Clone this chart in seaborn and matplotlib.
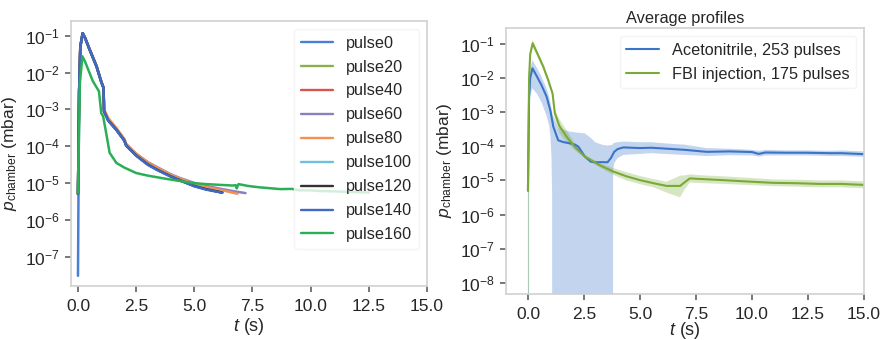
import numpy as np
import pandas as pd
import matplotlib
matplotlib.use("Agg")
import matplotlib.pyplot as plt
import matplotlib.ticker as mticker
import seaborn as sns

# ---------------- data ----------------
t_main = [0, 0.05, 0.1, 0.2, 0.3, 0.5, 0.8, 1.0, 1.1, 1.12, 1.3, 1.65, 2.0, 2.05,
          2.1, 2.5, 3.0, 3.4, 4.0, 4.4, 5.0, 5.5, 6.2]
p_pulse0 = [3e-8, 3.2e-3, 0.05, 0.117, 0.089, 0.042, 0.0145, 5.6e-3, 3.8e-3, 8.9e-4,
            5.0e-4, 2.8e-4, 1.4e-4, 1.12e-4, 1.0e-4, 5.6e-5, 3.2e-5, 2.3e-5, 1.5e-5,
            1.17e-5, 8.3e-6, 6.8e-6, 5.5e-6]
p_pulse20 = [5e-6, 3.2e-3, 0.05, 0.115, 0.088, 0.042, 0.0145, 5.6e-3, 3.8e-3, 9.0e-4,
             5.1e-4, 2.8e-4, 1.42e-4, 1.13e-4, 1.0e-4, 5.7e-5, 3.3e-5, 2.35e-5, 1.52e-5,
             1.2e-5, 8.5e-6, 6.9e-6, 5.6e-6]
p_pulse40 = [5e-6, 3.2e-3, 0.05, 0.116, 0.088, 0.042, 0.0145, 5.6e-3, 3.8e-3, 9.0e-4,
             5.1e-4, 2.85e-4, 1.42e-4, 1.13e-4, 1.0e-4, 5.7e-5, 3.3e-5, 2.35e-5, 1.55e-5,
             1.22e-5, 8.6e-6, 7.0e-6, 5.6e-6]
t_p60 = [0, 0.05, 0.1, 0.2, 0.3, 0.5, 0.8, 1.0, 1.1, 1.12, 1.3, 1.65, 2.0, 2.05,
         2.1, 2.5, 3.0, 3.4, 4.0, 4.4, 5.0, 5.5, 6.2, 6.8, 7.2]
p_pulse60 = [5e-6, 3.2e-3, 0.05, 0.116, 0.089, 0.043, 0.015, 5.7e-3, 3.9e-3, 9.5e-4,
             5.5e-4, 3.0e-4, 1.5e-4, 1.2e-4, 1.08e-4, 6.2e-5, 3.7e-5, 2.7e-5, 1.7e-5,
             1.35e-5, 1.0e-5, 8.3e-6, 6.8e-6, 5.8e-6, 5.3e-6]
t_p80 = [0, 0.05, 0.1, 0.2, 0.3, 0.5, 0.8, 1.0, 1.1, 1.12, 1.3, 1.65, 2.0, 2.05,
         2.1, 2.5, 3.0, 3.4, 4.0, 4.4, 5.0, 5.5, 6.2, 6.85]
p_pulse80 = [5e-6, 3.2e-3, 0.05, 0.116, 0.089, 0.043, 0.015, 5.7e-3, 3.9e-3, 1.0e-3,
             5.8e-4, 3.1e-4, 1.55e-4, 1.22e-4, 1.1e-4, 6.3e-5, 3.6e-5, 2.6e-5, 1.65e-5,
             1.3e-5, 9.5e-6, 7.8e-6, 6.3e-6, 5.1e-6]
p_pulse100 = [5e-6, 3.2e-3, 0.05, 0.116, 0.088, 0.042, 0.0145, 5.6e-3, 3.8e-3, 9.0e-4,
              5.0e-4, 2.8e-4, 1.4e-4, 1.12e-4, 1.0e-4, 5.6e-5, 3.2e-5, 2.3e-5, 1.5e-5,
              1.18e-5, 8.4e-6, 6.8e-6, 5.5e-6]
p_pulse120 = [5e-6, 3.2e-3, 0.05, 0.117, 0.089, 0.042, 0.0145, 5.6e-3, 3.8e-3, 8.9e-4,
              5.0e-4, 2.8e-4, 1.4e-4, 1.12e-4, 1.0e-4, 5.6e-5, 3.2e-5, 2.3e-5, 1.5e-5,
              1.17e-5, 8.3e-6, 6.8e-6, 5.5e-6]
p_pulse140 = [5e-6, 3.2e-3, 0.05, 0.117, 0.089, 0.042, 0.0145, 5.6e-3, 3.8e-3, 8.8e-4,
              4.9e-4, 2.75e-4, 1.38e-4, 1.1e-4, 0.98e-4, 5.5e-5, 3.1e-5, 2.25e-5, 1.47e-5,
              1.15e-5, 8.1e-6, 6.6e-6, 5.4e-6]
t_p160 = [0, 0.08, 0.19, 0.3, 0.64, 0.9, 0.95, 1.0, 1.08, 1.2, 1.36, 1.65, 2.0, 2.5,
          3.0, 3.8, 4.9, 5.5, 6.65, 6.78, 6.82, 6.9, 7.3, 7.8, 8.7, 9.2, 9.5, 9.9,
          10.5, 11.0, 11.5, 12.0, 12.5]
p_pulse160 = [5.4e-6, 5.0e-3, 0.0275, 0.02, 5.8e-3, 3.1e-3, 1.6e-3, 7.9e-4, 6.5e-4,
              2.5e-4, 6.6e-5, 3.5e-5, 2.6e-5, 1.86e-5, 1.58e-5, 1.29e-5, 1.0e-5, 9.3e-6,
              8.5e-6, 8.7e-6, 7.1e-6, 9.3e-6, 8.3e-6, 7.6e-6, 6.8e-6, 6.9e-6, 6.3e-6,
              6.3e-6, 6.0e-6, 5.9e-6, 5.75e-6, 5.6e-6, 5.5e-6]

pulse_names = ["pulse0", "pulse20", "pulse40", "pulse60", "pulse80",
               "pulse100", "pulse120", "pulse140", "pulse160"]
pulse_colors = ["#4a7fd4", "#88b04b", "#d9534f", "#8c7fc0", "#f5904f",
                "#6ec1de", "#333333", "#4169c4", "#2aaf55"]

# Average profiles
t_ace = [0, 0.05, 0.1, 0.2, 0.4, 0.6, 0.83, 1.0, 1.13, 1.35, 1.6, 1.87, 2.1, 2.25,
         2.54, 2.8, 3.0, 3.3, 3.55, 3.7, 3.85, 4.0, 4.26, 5.0, 5.5, 6.49, 7.0, 7.98,
         9.0, 10.0, 10.3, 10.6, 11.5, 12.4, 13.5, 14.0, 15.0]
p_ace = [5e-6, 2.5e-3, 0.01, 0.0195, 0.0112, 6.3e-3, 2.9e-3, 1.12e-3, 3.8e-4, 1.5e-4,
         1.32e-4, 1.23e-4, 1.12e-4, 9.8e-5, 5.0e-5, 3.55e-5, 3.4e-5, 3.45e-5, 3.4e-5,
         4.5e-5, 6.9e-5, 8.3e-5, 9.3e-5, 8.9e-5, 9.1e-5, 8.3e-5, 7.9e-5, 6.9e-5,
         7.1e-5, 6.8e-5, 6.0e-5, 6.6e-5, 6.5e-5, 6.5e-5, 6.3e-5, 6.3e-5, 5.9e-5]
t_ace_band = [0, 0.05, 0.1, 0.2, 0.4, 0.6, 0.83, 0.95, 1.0, 1.05, 1.08,
              1.1, 1.35, 1.87, 2.25, 2.54, 2.8, 3.0, 3.3, 3.55, 3.78,
              3.8, 3.85, 4.0, 4.26, 5.0, 5.5, 6.49, 7.0, 7.98, 9.0, 10.0, 10.3,
              10.6, 11.5, 12.4, 13.5, 14.0, 15.0]
p_ace_upper = [5.0e-6, 5.0e-3, 0.02, 0.034, 0.02, 0.0112, 5.0e-3, 2.8e-3, 2.0e-3, 1.26e-3,
               1.0e-3, 8.9e-4, 3.5e-4, 2.7e-4, 2.5e-4, 2.4e-4, 1.78e-4, 1.32e-4, 1.12e-4,
               1.05e-4, 1.12e-4, 1.2e-4, 1.26e-4, 1.32e-4, 1.38e-4, 1.32e-4, 1.32e-4,
               1.17e-4, 1.12e-4, 8.9e-5, 8.5e-5, 7.9e-5, 7.4e-5, 7.9e-5, 7.6e-5, 7.6e-5,
               7.4e-5, 7.6e-5, 7.1e-5]
p_ace_lower = [0.0, 1.0e-3, 3.2e-3, 5.0e-3, 3.5e-3, 2.0e-3, 7.9e-4, 4.0e-4, 2.0e-4, 5.0e-5,
               3.2e-6, 0.0, 0.0, 0.0, 0.0, 0.0, 0.0, 0.0, 0.0, 0.0, 0.0,
               2.0e-5, 3.2e-5, 4.5e-5, 5.6e-5, 6.0e-5, 6.3e-5, 5.8e-5, 5.6e-5, 5.2e-5,
               5.5e-5, 5.4e-5, 5.0e-5, 5.4e-5, 5.4e-5, 5.4e-5, 5.2e-5, 5.2e-5, 4.9e-5]

t_fbi = [0, 0.05, 0.1, 0.21, 0.4, 0.68, 0.9, 1.1, 1.15, 1.2, 1.4, 1.73, 2.1, 2.54, 3.2,
         3.81, 4.4, 5.0, 5.6, 6.19, 6.79, 7.0, 7.23, 7.5, 8.72, 9.8, 10.95, 12.0, 13.0,
         14.0, 15.0]
p_fbi = [5e-6, 0.01, 0.05, 0.105, 0.056, 0.022, 8.9e-3, 3.5e-3, 1.78e-3, 9.3e-4, 4.0e-4,
         1.9e-4, 9.5e-5, 5.0e-5, 2.8e-5, 1.82e-5, 1.32e-5, 1.02e-5, 8.3e-6, 6.9e-6,
         6.9e-6, 8.9e-6, 1.15e-5, 1.12e-5, 1.02e-5, 9.3e-6, 8.5e-6, 8.3e-6, 7.9e-6,
         7.9e-6, 7.4e-6]
p_fbi_upper = [5e-6, 0.0141, 0.063, 0.132, 0.068, 0.026, 0.0107, 4.3e-3, 2.2e-3, 1.23e-3,
               6.3e-4, 2.9e-4, 1.2e-4, 5.6e-5, 3.3e-5, 2.3e-5, 1.74e-5, 1.35e-5, 1.1e-5,
               9.1e-6, 1.38e-5, 1.41e-5, 1.51e-5, 1.45e-5, 1.32e-5, 1.2e-5, 1.07e-5,
               1.05e-5, 1.0e-5, 1.0e-5, 9.3e-6]
p_fbi_lower = [0.0, 7.1e-3, 0.04, 0.083, 0.047, 0.018, 7.4e-3, 3.0e-3, 1.41e-3, 7.1e-4,
               2.5e-4, 1.26e-4, 7.6e-5, 4.5e-5, 2.4e-5, 1.45e-5, 1.0e-5, 7.8e-6, 6.3e-6,
               4.4e-6, 3.2e-6, 5.6e-6, 8.7e-6, 8.5e-6, 7.9e-6, 7.4e-6, 6.8e-6, 6.6e-6,
               6.3e-6, 6.3e-6, 5.9e-6]

label_ace = "Acetonitrile, 253 pulses"
label_fbi = "FBI injection, 175 pulses"
color_ace = "#3a74c8"
color_fbi = "#7aaa35"

x_ticks = [0.0, 2.5, 5.0, 7.5, 10.0, 12.5, 15.0]

# ---------------- style ----------------
sns.set_theme(style="ticks", rc={
    "axes.edgecolor": "0.82",
    "axes.linewidth": 1.2,
    "xtick.color": "0.4",
    "ytick.color": "0.4",
    "xtick.labelcolor": "0.15",
    "ytick.labelcolor": "0.15",
    "xtick.major.size": 4.5,
    "ytick.major.size": 4.5,
    "xtick.major.pad": 5.0,
    "ytick.major.pad": 3.5,
    "xtick.labelsize": 12.5,
    "ytick.labelsize": 12.5,
    "axes.labelsize": 12.5,
    "legend.fontsize": 11.7,
})
plt.rcParams["font.family"] = ["Liberation Sans", "DejaVu Sans"]
plt.rcParams["mathtext.fontset"] = "custom"
plt.rcParams["mathtext.rm"] = "Liberation Sans"
plt.rcParams["mathtext.it"] = "Liberation Sans:italic"
plt.rcParams["mathtext.bf"] = "Liberation Sans:bold"

fig = plt.figure(figsize=(8.82, 3.4), dpi=100)
ax1 = fig.add_axes([71 / 882, (340 - 286) / 340, 356 / 882, 265 / 340])
ax2 = fig.add_axes([506 / 882, (340 - 294) / 340, 358 / 882, 266 / 340])

# ---------------- left panel ----------------
times = [t_main, t_main, t_main, t_p60, t_p80, t_main, t_main, t_main, t_p160]
values = [p_pulse0, p_pulse20, p_pulse40, p_pulse60, p_pulse80,
          p_pulse100, p_pulse120, p_pulse140, p_pulse160]
frames = []
for name, tt, pp in zip(pulse_names, times, values):
    frames.append(pd.DataFrame({"t": tt, "p": pp, "pulse": name}))
df = pd.concat(frames, ignore_index=True)

sns.lineplot(data=df, x="t", y="p", hue="pulse", hue_order=pulse_names,
             palette=dict(zip(pulse_names, pulse_colors)), estimator=None,
             sort=False, linewidth=1.8, ax=ax1)
ax1.set_yscale("log")
ax1.set_xlim(-0.3, 15)
ax1.set_ylim(10 ** -7.8, 10 ** -0.6)
leg1 = ax1.legend(loc="upper right", frameon=True, framealpha=0.8, edgecolor="0.95",
                  labelspacing=0.55)
for h in leg1.get_lines():
    h.set_linewidth(1.7)

# ---------------- right panel ----------------
ax2.set_yscale("log")
ax2.fill_between(t_ace_band, p_ace_lower, p_ace_upper, color=color_ace, alpha=0.3,
                 linewidth=0)
sns.lineplot(x=t_ace, y=p_ace, color=color_ace, linewidth=1.5, label=label_ace,
             estimator=None, sort=False, ax=ax2)
ax2.fill_between(t_fbi, p_fbi_lower, p_fbi_upper, color=color_fbi, alpha=0.3,
                 linewidth=0)
sns.lineplot(x=t_fbi, y=p_fbi, color=color_fbi, linewidth=1.5, label=label_fbi,
             estimator=None, sort=False, ax=ax2)
ax2.set_xlim(-0.98, 15)
ax2.set_ylim(10 ** -8.33, 10 ** -0.53)
ax2.set_title("Average profiles", fontsize=11.8, color="0.15", pad=3.5)
ax2.legend(loc="upper right", frameon=True, framealpha=0.8, edgecolor="0.95",
           labelspacing=0.55)

for ax in (ax1, ax2):
    for s in ax.spines.values():
        s.set_visible(True)
    ax.set_xticks(x_ticks)
    ax.yaxis.set_major_locator(mticker.LogLocator(base=10, numticks=20))
    ax.yaxis.set_minor_locator(mticker.NullLocator())
    ax.set_ylabel(r"$p_\mathrm{chamber}$ (mbar)", labelpad=4)
ax1.set_xlabel(r"$t$ (s)", fontsize=13, labelpad=1)
ax2.set_xlabel(r"$t$ (s)", fontsize=13, labelpad=-1.5)

fig.savefig("out.png", dpi=100)
